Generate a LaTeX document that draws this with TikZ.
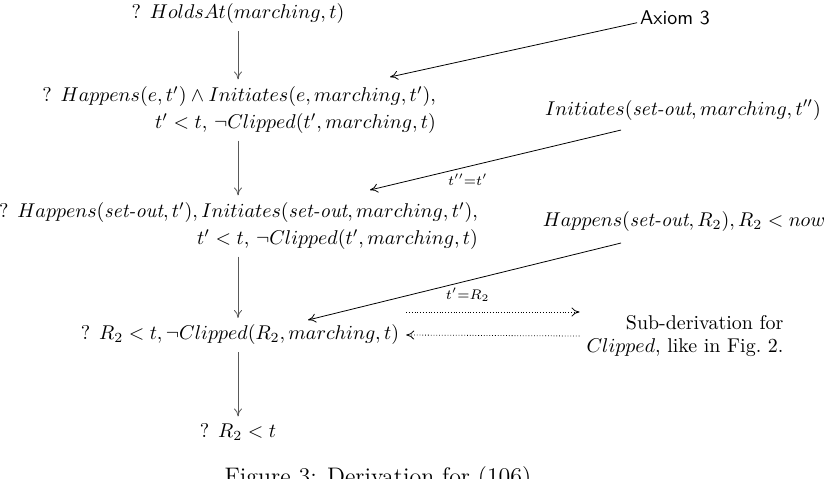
\documentclass[tikz,border=0pt]{standalone}
\usetikzlibrary{positioning, arrows.meta}

\begin{document}
\begin{tikzpicture}[
  x=0.017626cm, y=-0.017626cm,
  goal/.style={align=right},
  side/.style={align=right},
  flow/.style={-{To[length=4pt,width=4pt]}, black!65},
  link/.style={-{To[length=4pt,width=4.5pt]}},
  back/.style={-{To[length=4pt,width=4.5pt]}, densely dotted},
  eq/.style={below, font=\scriptsize}
]
  \useasboundingbox (0,0) rectangle (834,478);

  \node (g1) at (238,14) {? $HoldsAt(marching,t)$};
  \node[goal, anchor=east] (g2) at (443,110)
    {? $Happens(e,t')\wedge Initiates(e,marching,t')$,\\[1.6pt]
     $t'<t$, $\neg Clipped(t',marching,t)$};
  \node[goal, anchor=east] (g3) at (485,226)
    {? $Happens(\textit{set-out},t'), Initiates(\textit{set-out},marching,t')$,\\[1.6pt]
     $t'<t$, $\neg Clipped(t',marching,t)$};
  \node (g4) at (240,335) {? $R_2<t,\neg Clipped(R_2,marching,t)$};
  \node (g5) at (238,432) {? $R_2<t$};

  \node (ax) at (675,18) {\sffamily Axiom 3};
  \node (ini) at (683,110) {$Initiates(\textit{set-out},marching,t'')$};
  \node (hap) at (684,222) {$Happens(\textit{set-out},R_2),R_2<now$};
  \node[side] (sub) at (685,336) {Sub-derivation for\\ $Clipped$, like in Fig.~2.};

  \node[anchor=north, inner sep=0pt, font=\large] (cap) at (378,466)
    {Figure 3: Derivation for (106)};

  \coordinate (t1) at (390,77);
  \coordinate (t2) at (370,190);
  \coordinate (t3) at (308,320);

  \draw[flow] (g1.south) -- (g1.south |- g2.north);
  \draw[flow] (g2.south -| g1) -- (g3.north -| g1);
  \draw[flow] (g3.south -| g1) -- (g4.north -| g1);
  \draw[flow] (g4.south -| g1) -- (g5.north -| g1);

  \draw[link] ([shift={(4,-2)}]ax.base west) -- (t1);
  \draw[link] ([shift={(-62,3)}]ini.south) -- node[eq, pos=0.61] {$t''{=}t'$} (t2);
  \draw[link] ([shift={(-63,4)}]hap.south) -- node[eq, pos=0.49] {$t'{=}R_2$} (t3);

  \draw[back] ([shift={(0,-23)}]g4.east) -- ([shift={(0,-24)}]sub.west);
  \draw[back] (sub.west) -- (g4.east);
\end{tikzpicture}
\end{document}
